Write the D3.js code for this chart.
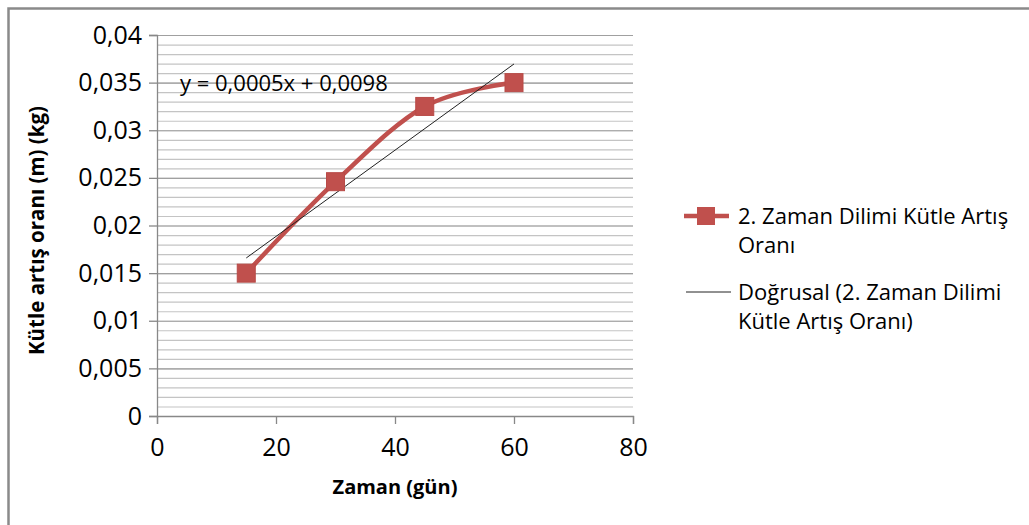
<!DOCTYPE html>
<html>
<head>
<meta charset="utf-8">
<script src="https://cdn.jsdelivr.net/npm/d3@7"></script>
<style>
  html, body { margin: 0; padding: 0; background: #fff; }
  svg text { font-family: "Open Sans", "Noto Sans", sans-serif; fill: #000; }
</style>
</head>
<body>
<svg id="chart" width="1029" height="525"></svg>
<script>
// Time (days) and mass gain rate (kg) for the 2nd time slice
const days = [15, 30, 45, 60];
const massRate = [0.015, 0.0246, 0.0325, 0.035];

const xTicks = [0, 20, 40, 60, 80];
const yTicks = [0, 0.005, 0.01, 0.015, 0.02, 0.025, 0.03, 0.035, 0.04];
const yMinorStep = 0.001;

const seriesName = ["2. Zaman Dilimi Kütle Artış", "Oranı"];
const trendName = ["Doğrusal (2. Zaman Dilimi", "Kütle Artış Oranı)"];
const xTitle = "Zaman (gün)";
const yTitle = "Kütle artış oranı (m) (kg)";

const svg = d3.select("#chart");
const plot = { left: 157, right: 633, top: 35, bottom: 416 };

const x = d3.scaleLinear().domain([0, 80]).range([plot.left, plot.right]);
const y = d3.scaleLinear().domain([0, 0.04]).range([plot.bottom, plot.top]);

const trLocale = d3.formatLocale({ decimal: ",", thousands: ".", grouping: [3], currency: ["", " TL"] });
const fmt = trLocale.format("~g");

const tickFont = "25px";
const textFont = "22px";

// outer chart frame
svg.append("rect")
  .attr("x", 8.5).attr("y", 8.5)
  .attr("width", 1040).attr("height", 540)
  .attr("fill", "none").attr("stroke", "#8a8a8a").attr("stroke-width", 2.5);

// minor gridlines every 0.001
const minorVals = d3.range(0, 0.04 + 1e-9, yMinorStep).map(v => +v.toFixed(4));
svg.append("g")
  .attr("transform", `translate(${plot.left},0)`)
  .call(d3.axisLeft(y).tickValues(minorVals).tickSize(-(plot.right - plot.left)).tickFormat(""))
  .call(g => g.select(".domain").remove())
  .call(g => g.selectAll("line").attr("stroke", "#c4c4c4").attr("stroke-width", 1.2));

// major gridlines
svg.append("g")
  .attr("transform", `translate(${plot.left},0)`)
  .call(d3.axisLeft(y).tickValues(yTicks).tickSize(-(plot.right - plot.left)).tickFormat(""))
  .call(g => g.select(".domain").remove())
  .call(g => g.selectAll("line").attr("stroke", "#a0a0a0").attr("stroke-width", 1.2));

// y axis
svg.append("g")
  .attr("transform", `translate(${plot.left},0)`)
  .call(d3.axisLeft(y).tickValues(yTicks).tickSize(8).tickPadding(7).tickFormat(fmt))
  .call(g => g.select(".domain").attr("stroke", "#888").attr("stroke-width", 1.3))
  .call(g => g.selectAll("line").attr("stroke", "#888").attr("stroke-width", 1.3))
  .call(g => g.selectAll("text").style("font-size", tickFont).attr("fill", "#000"));

// x axis
svg.append("g")
  .attr("transform", `translate(0,${plot.bottom})`)
  .call(d3.axisBottom(x).tickValues(xTicks).tickSize(8).tickPadding(14).tickFormat(d => String(d)))
  .call(g => g.select(".domain").attr("stroke", "#888").attr("stroke-width", 1.3))
  .call(g => g.selectAll("line").attr("stroke", "#888").attr("stroke-width", 1.3))
  .call(g => g.selectAll("text").style("font-size", tickFont).attr("fill", "#000"));

// axis titles
svg.append("text")
  .attr("x", (plot.left + plot.right) / 2).attr("y", 494)
  .attr("text-anchor", "middle")
  .style("font-size", "20px").style("font-weight", "bold")
  .text(xTitle);

svg.append("text")
  .attr("transform", `translate(44,${(plot.top + plot.bottom) / 2 + 5}) rotate(-90)`)
  .attr("text-anchor", "middle")
  .style("font-size", "20.5px").style("font-weight", "bold")
  .text(yTitle);

// least-squares linear trend
const mx = d3.mean(days), my = d3.mean(massRate);
const slope = d3.sum(days, (d, i) => (d - mx) * (massRate[i] - my)) / d3.sum(days, d => (d - mx) ** 2);
const intercept = my - slope * mx;
const xExt = d3.extent(days);

const color = "#c0504d";

// smoothed data series
const line = d3.line()
  .x((d, i) => x(days[i]))
  .y(d => y(d))
  .curve(d3.curveCardinal.tension(0));

svg.append("path")
  .datum(massRate)
  .attr("d", line)
  .attr("fill", "none")
  .attr("stroke", color)
  .attr("stroke-width", 4.5)
  .attr("stroke-linejoin", "round");

// trendline
svg.append("line")
  .attr("x1", x(xExt[0])).attr("y1", y(slope * xExt[0] + intercept))
  .attr("x2", x(xExt[1])).attr("y2", y(slope * xExt[1] + intercept))
  .attr("stroke", "#222").attr("stroke-width", 1);

// markers
const ms = 18;
svg.append("g").selectAll("rect")
  .data(massRate)
  .join("rect")
  .attr("x", (d, i) => x(days[i]) - ms / 2)
  .attr("y", d => y(d) - ms / 2)
  .attr("width", ms).attr("height", ms)
  .attr("fill", color)
  .attr("stroke", "#b84a47").attr("stroke-width", 1);

// trendline equation
const sigFmt = v => (Math.round(v * 10000) / 10000).toFixed(4).replace(".", ",");
svg.append("text")
  .attr("x", 180).attr("y", 91)
  .style("font-size", textFont)
  .text(`y = ${sigFmt(slope)}x + ${sigFmt(intercept)}`);

// legend
const lg = svg.append("g");
lg.append("line").attr("x1", 684).attr("x2", 729).attr("y1", 216).attr("y2", 216)
  .attr("stroke", color).attr("stroke-width", 4.5);
lg.append("rect").attr("x", 697).attr("y", 207).attr("width", 18).attr("height", 18)
  .attr("fill", color);
lg.selectAll("text.s").data(seriesName).join("text")
  .attr("class", "s")
  .attr("x", 738).attr("y", (d, i) => 224 + i * 29)
  .style("font-size", textFont)
  .text(d => d);

lg.append("line").attr("x1", 686).attr("x2", 731).attr("y1", 292).attr("y2", 292)
  .attr("stroke", "#222").attr("stroke-width", 1);
lg.selectAll("text.t").data(trendName).join("text")
  .attr("class", "t")
  .attr("x", 738).attr("y", (d, i) => 300 + i * 29)
  .style("font-size", textFont)
  .text(d => d);
</script>
</body>
</html>
